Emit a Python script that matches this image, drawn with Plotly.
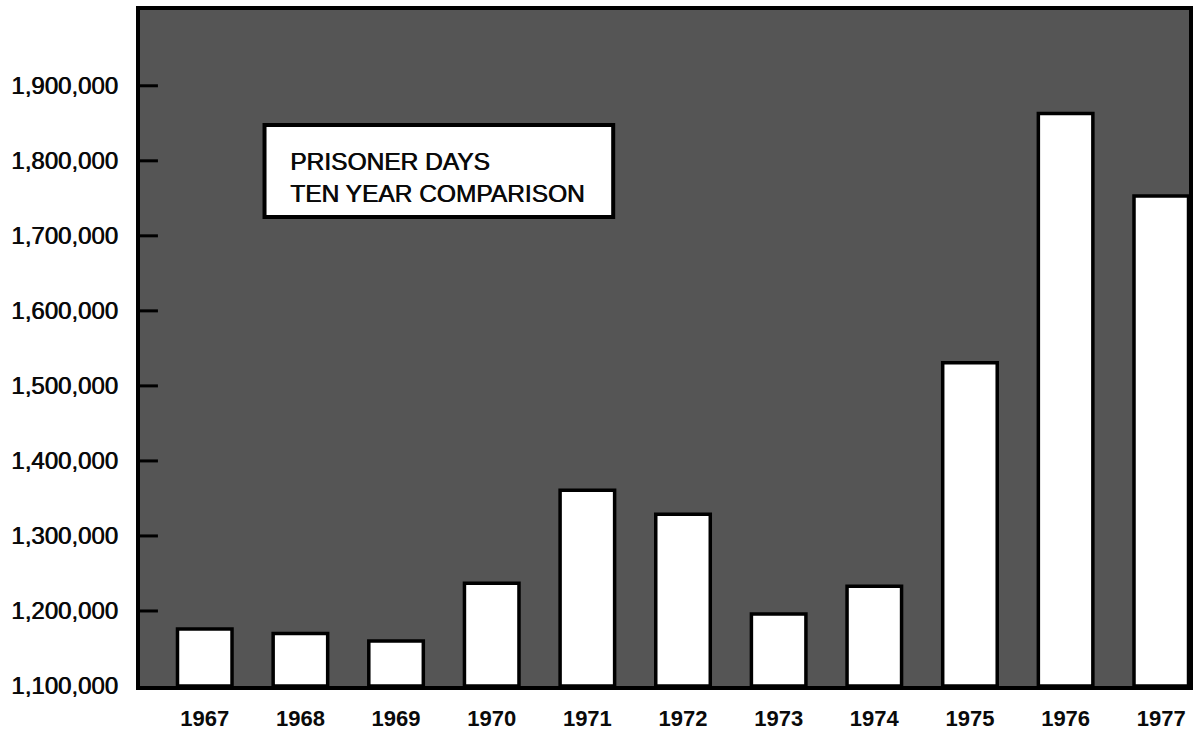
import plotly.graph_objects as go

years = [1967, 1968, 1969, 1970, 1971, 1972, 1973, 1974, 1975, 1976, 1977]
prisoner_days = [1176000, 1170000, 1160000, 1237000, 1361000, 1329000,
                 1196000, 1233000, 1531000, 1863000, 1753000]
y_ticks = [1100000, 1200000, 1300000, 1400000, 1500000, 1600000, 1700000, 1800000, 1900000]
y_tick_labels = ["1,100,000", "1,200,000", "1,300,000", "1,400,000", "1,500,000",
                 "1,600,000", "1,700,000", "1,800,000", "1,900,000"]
title_lines = ["PRISONER DAYS", "TEN YEAR COMPARISON"]

FONT = "Liberation Sans, Arial, sans-serif"
INK = "#0a0a0a"
THICK = "0.7px 0 0 #0a0a0a"

# plot-area geometry (pixels) used for paper-coordinate conversions
PL, PR, PT, PB = 140, 1193, 10, 686
PW, PH = PR - PL, PB - PT

fig = go.Figure()
fig.add_trace(go.Bar(
    x=years,
    y=[v - 1100000 for v in prisoner_days],
    base=1100000,
    width=0.57,
    marker=dict(color="white", line=dict(color="black", width=3.5)),
    hoverinfo="skip",
))

fig.update_layout(
    width=1196, height=746,
    margin=dict(l=PL, r=1196 - PR, t=PT, b=746 - PB),
    paper_bgcolor="white",
    plot_bgcolor="#555555",
    showlegend=False,
    font=dict(family=FONT, color=INK, size=22),
    xaxis=dict(
        range=[1966.323, 1977.29],
        tickvals=years,
        ticktext=[str(y) for y in years],
        ticks="",
        showgrid=False,
        zeroline=False,
        showline=True, linecolor="black", linewidth=4, mirror=True,
        tickfont=dict(family=FONT, size=22, color=INK, weight="bold"),
        ticklabelstandoff=10,
    ),
    yaxis=dict(
        range=[1100000, 2001000],
        tickvals=y_ticks,
        ticktext=[t + "  " for t in y_tick_labels],
        ticks="",
        showgrid=False,
        zeroline=False,
        showline=True, linecolor="black", linewidth=4, mirror=True,
        tickfont=dict(family=FONT, size=24, color=INK, shadow=THICK),
    ),
)

# inside tick marks on the left axis, placed through the y scale
for v in y_ticks[1:]:
    fig.add_shape(type="line", xref="paper", yref="y",
                  x0=0, x1=18 / PW, y0=v, y1=v,
                  line=dict(color="black", width=3), layer="above")

# title box
fig.add_shape(type="rect", xref="paper", yref="paper",
              x0=(265 - PL) / PW, x1=(615 - PL) / PW,
              y0=(PB - 217) / PH, y1=(PB - 125) / PH,
              fillcolor="white", line=dict(color="black", width=4), layer="above")

fig.add_annotation(
    xref="paper", yref="paper",
    x=(289 - PL) / PW, y=(PB - 177) / PH,
    xanchor="left", yanchor="middle",
    text="<br>".join(title_lines),
    align="left",
    showarrow=False,
    font=dict(family=FONT, size=24.5, color=INK, shadow=THICK),
)

fig.write_html("out.html", post_script="document.body.style.margin='0';",
               config={"displayModeBar": False})
